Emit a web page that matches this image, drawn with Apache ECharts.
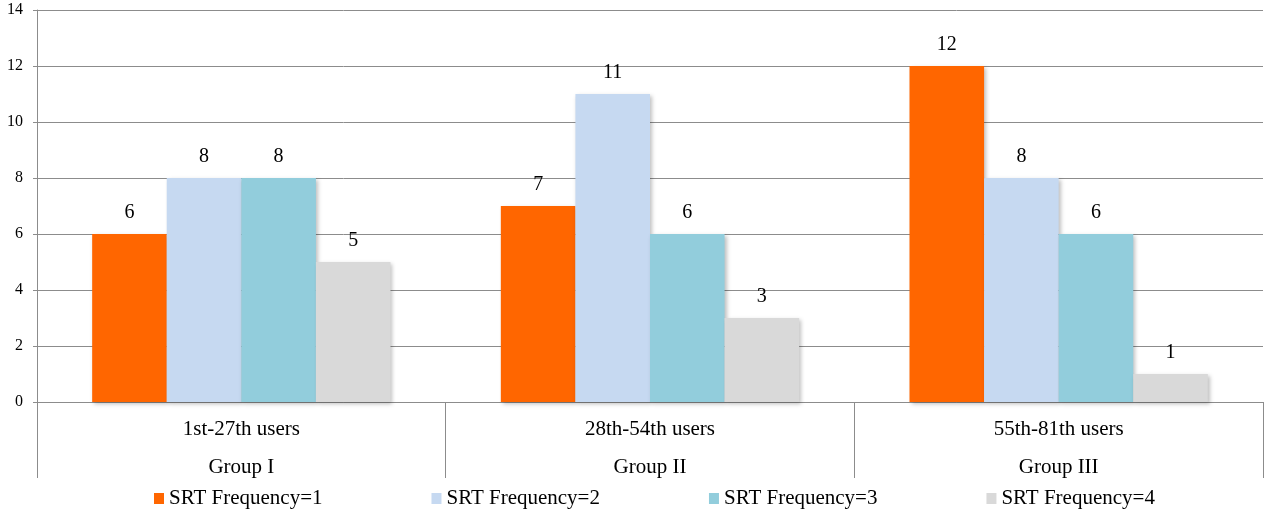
<!DOCTYPE html>
<html><head><meta charset="utf-8">
<script src="https://cdn.jsdelivr.net/npm/echarts@6/dist/echarts.min.js"></script>
<style>html,body{margin:0;padding:0;background:#fff}#c{width:1265px;height:513px}</style>
</head><body><div id="c"></div>
<script>
const userRanges = ['1st-27th users', '28th-54th users', '55th-81th users'];
const groups = ['Group I', 'Group II', 'Group III'];
const seriesNames = ['SRT Frequency=1', 'SRT Frequency=2', 'SRT Frequency=3', 'SRT Frequency=4'];
const freq1 = [6, 7, 12];
const freq2 = [8, 11, 8];
const freq3 = [8, 6, 6];
const freq4 = [5, 3, 1];
const yTicks = [0, 2, 4, 6, 8, 10, 12, 14];

const colors = ['#FF6600', '#C6D9F1', '#92CDDC', '#D9D9D9'];
const font = '"Liberation Serif", "Times New Roman", serif';
const values = [freq1, freq2, freq3, freq4];

const chart = echarts.init(document.getElementById('c'), null, {renderer: 'canvas'});
chart.setOption({
  animation: false,
  grid: {left: 37, right: 2, top: 10, bottom: 111, containLabel: false, outerBoundsMode: 'none'},
  legend: {
    top: 483, left: 149, itemWidth: 10, itemHeight: 11, itemGap: 109, icon: 'rect',
    textStyle: {fontFamily: font, fontSize: 21, color: '#000'},
    data: seriesNames
  },
  xAxis: {
    type: 'category',
    data: userRanges.map((u, i) => u + '\n' + groups[i]),
    axisLine: {lineStyle: {color: '#8c8c8c', width: 1}},
    axisTick: {show: true, alignWithLabel: false, length: 76, lineStyle: {color: '#8c8c8c', width: 1}},
    axisLabel: {fontFamily: font, fontSize: 21, color: '#000', lineHeight: 38, margin: 8}
  },
  yAxis: {
    type: 'value', min: yTicks[0], max: yTicks[yTicks.length - 1], interval: 2,
    axisLine: {show: true, lineStyle: {color: '#8c8c8c', width: 1}},
    axisTick: {show: true, length: 4, lineStyle: {color: '#8c8c8c'}},
    splitLine: {lineStyle: {color: '#8c8c8c', width: 1}},
    axisLabel: {
      margin: 14, formatter: '{t|{value}}',
      rich: {t: {fontFamily: font, fontSize: 16, color: '#000'}}
    }
  },
  series: seriesNames.map((n, i) => ({
    name: n, type: 'bar', data: values[i],
    barGap: '0%', barCategoryGap: '27%',
    itemStyle: {color: colors[i], shadowColor: 'rgba(0,0,0,0.25)', shadowBlur: 4, shadowOffsetX: 2, shadowOffsetY: 2},
    label: {show: true, position: 'top', distance: 11, fontFamily: font, fontSize: 20, color: '#000'}
  }))
});
</script></body></html>
